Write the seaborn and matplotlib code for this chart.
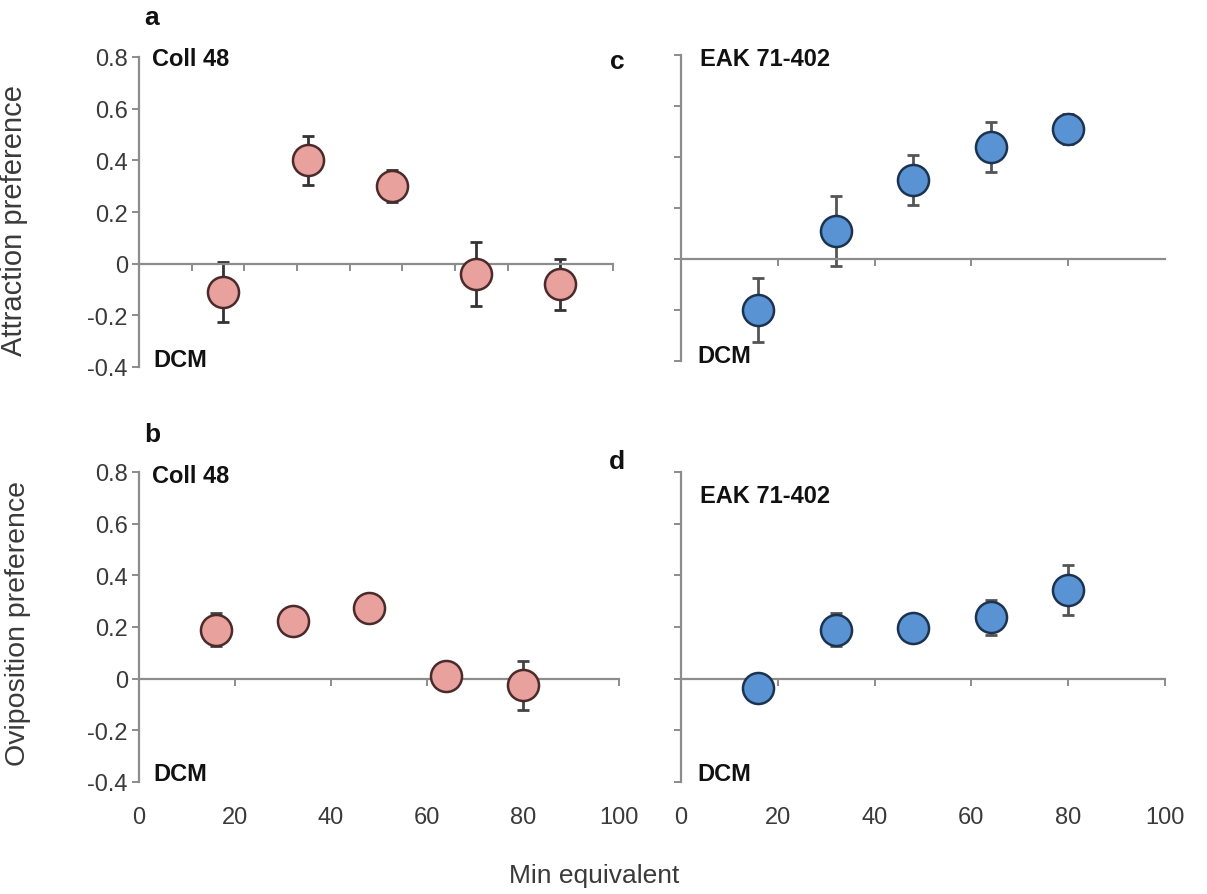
import numpy as np
import pandas as pd
import matplotlib
matplotlib.use("Agg")
import matplotlib.pyplot as plt
import seaborn as sns

sns.set_style("white")
plt.rcParams['font.family'] = ['Liberation Sans', 'DejaVu Sans']
plt.rcParams['axes.unicode_minus'] = False

# ---- data ----
dose = [16, 32, 48, 64, 80]
attr_coll = [-0.11, 0.40, 0.30, -0.04, -0.08]
attr_coll_err = [0.115, 0.095, 0.063, 0.123, 0.10]
attr_eak = [-0.20, 0.11, 0.31, 0.44, 0.51]
attr_eak_err = [0.124, 0.137, 0.097, 0.098, 0.06]
ovi_coll = [0.19, 0.225, 0.275, 0.01, -0.026]
ovi_coll_err = [0.063, 0.03, 0.03, 0.03, 0.095]
ovi_eak = [-0.038, 0.19, 0.196, 0.238, 0.342]
ovi_eak_err = [0.03, 0.063, 0.03, 0.068, 0.097]

yticks = [-0.4, -0.2, 0, 0.2, 0.4, 0.6, 0.8]
ytick_labels = ["-0.4", "-0.2", "0", "0.2", "0.4", "0.6", "0.8"]
xticks_bottom = [0, 20, 40, 60, 80, 100]
xtick_labels = ["0", "20", "40", "60", "80", "100"]

PINK = "#E8A19C"
PINK_EDGE = "#4a2a2a"
BLUE = "#5A93D3"
BLUE_EDGE = "#1c3350"
SPINE = "#8c8c8c"
TXT = "#3a3a3a"

fig = plt.figure(figsize=(12.07, 8.95), dpi=100)
W, H = 1207, 895

def add_ax(l, r, t, b):
    return fig.add_axes([l / W, 1 - b / H, (r - l) / W, (b - t) / H])

ax_a = add_ax(139, 613, 58, 368)
ax_b = add_ax(139, 619, 473, 783)
ax_c = add_ax(681, 1165, 56, 362)
ax_d = add_ax(681, 1165, 473, 783)

def style(ax, xmax, xt, ylabels, bottom_labels):
    ax.set_xlim(0, xmax)
    ax.set_ylim(-0.4, 0.8)
    for s in ["top", "right"]:
        ax.spines[s].set_visible(False)
    ax.spines["bottom"].set_position(("data", 0))
    for s in ["left", "bottom"]:
        ax.spines[s].set_color(SPINE)
        ax.spines[s].set_linewidth(1.6)
    ax.set_xticks(xt)
    ax.set_yticks(yticks)
    ax.tick_params(axis="both", direction="out", length=5, width=1.4,
                   color=SPINE, bottom=True, left=True)
    ax.tick_params(axis="x", labelbottom=False)
    if ylabels:
        ax.set_yticklabels(ytick_labels, fontsize=17, color=TXT)
        ax.tick_params(axis="y", pad=3)
    else:
        ax.tick_params(axis="y", labelleft=False)
    if bottom_labels:
        sec = ax.secondary_xaxis(0.0)
        sec.set_xticks(xticks_bottom)
        sec.set_xticklabels(xtick_labels, fontsize=17, color=TXT)
        sec.tick_params(length=0, pad=17)
        sec.spines["bottom"].set_visible(False)
    ax.set_xlabel("")
    ax.set_ylabel("")

def draw(ax, y, err, face, edge, ecol):
    df = pd.DataFrame({"x": dose, "y": y})
    ax.errorbar(dose, y, yerr=err, fmt="none", ecolor=ecol, elinewidth=2,
                capsize=4, capthick=2, zorder=2)
    sns.scatterplot(data=df, x="x", y="y", ax=ax, s=500, color=face,
                    edgecolor=edge, linewidth=1.8, zorder=3, legend=False)

draw(ax_a, attr_coll, attr_coll_err, PINK, PINK_EDGE, "#333333")
draw(ax_b, ovi_coll, ovi_coll_err, PINK, PINK_EDGE, "#444444")
draw(ax_c, attr_eak, attr_eak_err, BLUE, BLUE_EDGE, "#555555")
draw(ax_d, ovi_eak, ovi_eak_err, BLUE, BLUE_EDGE, "#555555")

style(ax_a, 90, list(range(10, 91, 10)), True, False)
style(ax_b, 100, [20, 40, 60, 80, 100], True, True)
style(ax_c, 100, [20, 40, 60, 80], False, False)
style(ax_d, 100, [20, 40, 60, 80, 100], False, True)

ax_a.set_ylabel("Attraction preference", fontsize=21, color=TXT)
ax_a.yaxis.set_label_coords((28 - 139) / 474, (368 - 220) / 310)
ax_b.set_ylabel("Oviposition preference", fontsize=20.5, color=TXT)
ax_b.yaxis.set_label_coords((31 - 139) / 480, (783 - 624) / 310)

bold = dict(fontsize=17, fontweight="bold", color="#111111")
ax_a.text(0.028, 0.994, "Coll 48", transform=ax_a.transAxes, va="center", ha="left", **bold)
ax_a.text(0.030, 0.024, "DCM", transform=ax_a.transAxes, va="center", ha="left", **bold)
ax_b.text(0.028, 0.99, "Coll 48", transform=ax_b.transAxes, va="center", ha="left", **bold)
ax_b.text(0.030, 0.026, "DCM", transform=ax_b.transAxes, va="center", ha="left", **bold)
ax_c.text(0.039, 0.99, "EAK 71-402", transform=ax_c.transAxes, va="center", ha="left", **bold)
ax_c.text(0.033, 0.018, "DCM", transform=ax_c.transAxes, va="center", ha="left", **bold)
ax_d.text(0.039, 0.923, "EAK 71-402", transform=ax_d.transAxes, va="center", ha="left", **bold)
ax_d.text(0.033, 0.026, "DCM", transform=ax_d.transAxes, va="center", ha="left", **bold)

letter = dict(fontsize=19, fontweight="bold", color="#111111", ha="center", va="center")
fig.text(152 / W, 1 - 18 / H, "a", **letter)
fig.text(152 / W, 1 - 435 / H, "b", **letter)
fig.text(617 / W, 1 - 62 / H, "c", **letter)
fig.text(617 / W, 1 - 462 / H, "d", **letter)

fig.text(594 / W, 1 - 876 / H, "Min equivalent", fontsize=19, color=TXT,
         ha="center", va="center")

fig.savefig("out.png", dpi=100)
